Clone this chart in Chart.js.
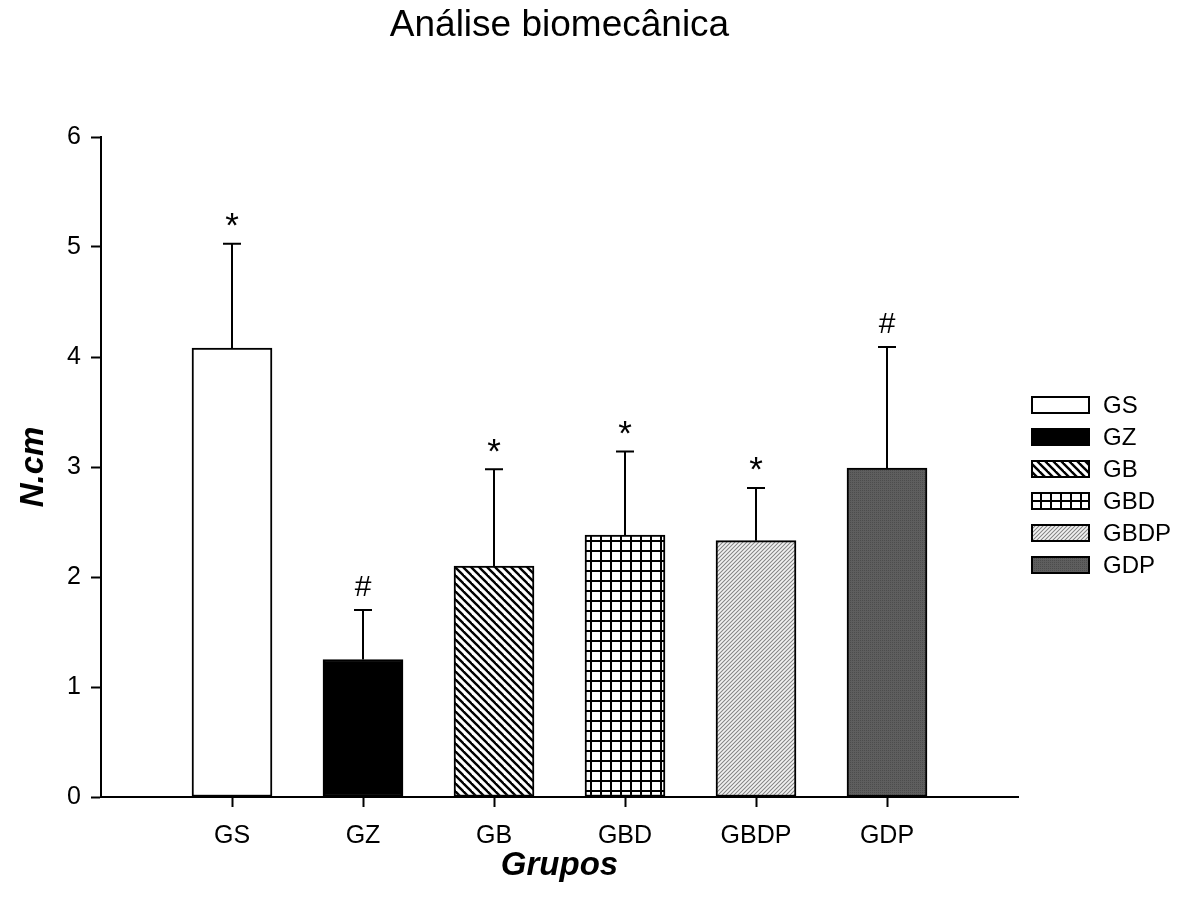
<!DOCTYPE html>
<html><head><meta charset="utf-8">
<script src="https://cdn.jsdelivr.net/npm/chart.js@4.4.1/dist/chart.umd.min.js"></script>
<style>html,body{margin:0;padding:0;background:#fff}#wrap{width:1184px;height:906px}</style>
</head><body><div id="wrap"><canvas id="c" width="1184" height="906"></canvas></div>
<script>
const categories = ['GS','GZ','GB','GBD','GBDP','GDP'];
const means = [4.08, 1.25, 2.10, 2.38, 2.33, 2.99];
const errors = [0.95, 0.45, 0.88, 0.76, 0.48, 1.10];
const marks = ['*','#','*','*','*','#'];
const yTicks = [0, 1, 2, 3, 4, 5, 6];
const titleText = 'Análise biomecânica';
const xTitle = 'Grupos';
const yTitle = 'N.cm';

const FONT = "'Liberation Sans', Arial, sans-serif";
Chart.defaults.font.family = FONT;
Chart.defaults.color = '#000';

const mainCtx = document.getElementById('c').getContext('2d');
function makePattern(w, h, draw) {
  const c = document.createElement('canvas'); c.width = w; c.height = h;
  const g = c.getContext('2d'); draw(g, w, h);
  return mainCtx.createPattern(c, 'repeat');
}
const patterns = [
  '#ffffff',
  '#000000',
  makePattern(8, 8, (g, w, h) => {
    g.fillStyle = '#fff'; g.fillRect(0, 0, w, h);
    g.strokeStyle = '#000'; g.lineWidth = 2.4;
    for (let k = -1; k <= 1; k++) { g.beginPath(); g.moveTo(k * 8 - 2, -2); g.lineTo(k * 8 + 10, 10); g.stroke(); }
  }),
  makePattern(10, 10, (g, w, h) => {
    g.fillStyle = '#fff'; g.fillRect(0, 0, w, h);
    g.fillStyle = '#000'; g.fillRect(0, 0, w, 2); g.fillRect(0, 0, 2, h);
  }),
  makePattern(4, 4, (g, w, h) => {
    for (let x = 0; x < w; x++) for (let y = 0; y < h; y++) {
      const r = (x + y) % 4;
      g.fillStyle = r === 0 ? '#8a8a8a' : (r === 2 ? '#f2f2f2' : '#d6d6d6');
      g.fillRect(x, y, 1, 1);
    }
  }),
  makePattern(4, 4, (g, w, h) => {
    g.fillStyle = '#5e5e5e'; g.fillRect(0, 0, w, h);
    g.fillStyle = '#4c4c4c';
    for (let x = 0; x < w; x += 2) for (let y = 0; y < h; y += 2) g.fillRect(x, y, 1, 1);
  })
];

const labels = ['', ...categories, ''];
const data = [null, ...means, null];

const extras = {
  id: 'extras',
  afterDatasetsDraw(chart) {
    const { ctx, scales: { y } } = chart;
    const meta = chart.getDatasetMeta(0);
    ctx.save();
    ctx.strokeStyle = '#000'; ctx.lineWidth = 2;
    means.forEach((m, i) => {
      const bar = meta.data[i + 1];
      const px = Math.round(bar.x);
      const y0 = y.getPixelForValue(m), y1 = y.getPixelForValue(m + errors[i]);
      ctx.beginPath(); ctx.moveTo(px, y0); ctx.lineTo(px, y1);
      ctx.moveTo(px - 9, y1); ctx.lineTo(px + 9, y1); ctx.stroke();
      const sym = marks[i];
      ctx.font = (sym === '*' ? '35px ' : '30px ') + FONT;
      ctx.fillStyle = '#000'; ctx.textAlign = 'center'; ctx.textBaseline = 'alphabetic';
      const mt = ctx.measureText(sym);
      const cy = y1 - 24;
      ctx.fillText(sym, px, cy + (mt.actualBoundingBoxAscent - mt.actualBoundingBoxDescent) / 2);
    });
    ctx.restore();
  },
  afterDraw(chart) {
    const { ctx, chartArea } = chart;
    ctx.save();
    const bx = chartArea.right + 13, bw = 59, bh = 18;
    categories.forEach((cat, i) => {
      const cy = 405 + 32 * i;
      ctx.fillStyle = patterns[i];
      ctx.fillRect(bx, cy - bh / 2, bw, bh);
      ctx.strokeStyle = '#000'; ctx.lineWidth = 2;
      ctx.strokeRect(bx + 1, cy - bh / 2 + 1, bw - 2, bh - 2);
      ctx.fillStyle = '#000'; ctx.font = '24px ' + FONT;
      ctx.textAlign = 'left'; ctx.textBaseline = 'middle';
      ctx.fillText(cat, bx + 72, cy + 1);
    });
    ctx.restore();
  }
};

new Chart(document.getElementById('c'), {
  type: 'bar',
  data: {
    labels: labels,
    datasets: [{
      data: data,
      backgroundColor: [null, ...patterns, null],
      borderColor: '#000',
      borderWidth: 2,
      borderSkipped: false,
      barThickness: 80
    }]
  },
  options: {
    responsive: false,
    animation: false,
    devicePixelRatio: 1,
    layout: { padding: { left: 0, right: 166, top: 0, bottom: 0 } },
    plugins: {
      legend: { display: false },
      tooltip: { enabled: false },
      title: {
        display: true, text: titleText, fullSize: false,
        font: { size: 37, weight: 'normal', family: FONT },
        padding: { top: 4, bottom: 88.6 }
      }
    },
    scales: {
      x: {
        type: 'category',
        offset: false,
        grid: {
          display: true, offset: false, drawOnChartArea: false, drawTicks: true, tickLength: 10, tickWidth: 2,
          tickColor: (c) => (c.index === 0 || c.index === labels.length - 1) ? 'rgba(0,0,0,0)' : '#000'
        },
        border: { display: true, color: '#000', width: 2 },
        ticks: { font: { size: 25 }, color: '#000', padding: 14, maxRotation: 0, autoSkip: false },
        title: { display: true, text: xTitle, font: { size: 33, style: 'italic', weight: 'bold', family: FONT }, padding: { top: 0, bottom: 20 } },
        afterFit: (s) => { s.height = 109; }
      },
      y: {
        min: yTicks[0], max: yTicks[yTicks.length - 1],
        afterBuildTicks: (s) => { s.ticks = yTicks.map(v => ({ value: v })); },
        grid: { display: true, drawOnChartArea: false, drawTicks: true, tickLength: 10, tickWidth: 2, tickColor: '#000' },
        border: { display: true, color: '#000', width: 2 },
        ticks: { font: { size: 25 }, color: '#000', padding: 10 },
        title: { display: true, text: yTitle, font: { size: 33, style: 'italic', weight: 'bold', family: FONT }, padding: { top: 14, bottom: 0 } },
        afterFit: (s) => { s.width = 101; }
      }
    }
  },
  plugins: [extras]
});
</script></body></html>
